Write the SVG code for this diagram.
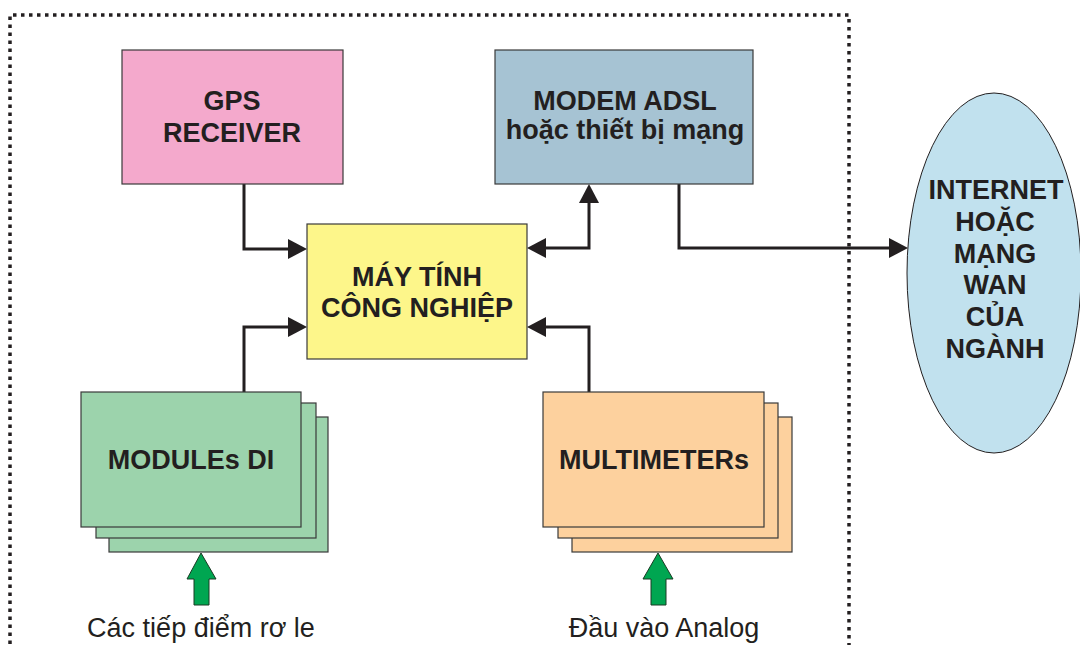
<svg xmlns="http://www.w3.org/2000/svg" width="1080" height="645" viewBox="0 0 1080 645">
<defs>
<style>
.t{font-family:"Liberation Sans",Arial,sans-serif;font-weight:bold;font-size:27px;fill:#231f20;text-anchor:middle}
.r{font-family:"Liberation Sans",Arial,sans-serif;font-size:27px;fill:#231f20;text-anchor:middle}
.box{stroke:#3a3a3a;stroke-width:1.2}
.con{fill:none;stroke:#231f20;stroke-width:3}
.green{fill:#00a651;stroke:#1a3a24;stroke-width:1}
</style>
<marker id="ah" markerUnits="userSpaceOnUse" markerWidth="20" markerHeight="21" refX="0" refY="10" orient="auto-start-reverse" viewBox="0 0 20 21">
<path d="M0,0 L19,10 L0,20 z" fill="#231f20"/>
</marker>
</defs>
<rect width="1080" height="645" fill="#ffffff"/>
<path d="M10,660 V15 H849 V660" fill="none" stroke="#231f20" stroke-width="3.5" stroke-dasharray="3.5 4.5"/>

<g id="connectors">
<path class="con" d="M244,184 V249 H288" marker-end="url(#ah)"/>
<path class="con" d="M546,248 H589 V203" marker-start="url(#ah)" marker-end="url(#ah)"/>
<path class="con" d="M244,392 V327 H288" marker-end="url(#ah)"/>
<path class="con" d="M589,392 V327 H546" marker-end="url(#ah)"/>
<path class="con" d="M679,184 V248 H889" marker-end="url(#ah)"/>
</g>

<g id="gps">
<rect class="box" x="122" y="50" width="221" height="134" fill="#f4a9cc"/>
<text class="t" x="232" y="110">GPS</text>
<text class="t" x="232" y="142">RECEIVER</text>
</g>

<g id="modem">
<rect class="box" x="495" y="50" width="258" height="134" fill="#a6c3d3"/>
<text class="t" x="625" y="110">MODEM ADSL</text>
<text class="t" x="625" y="139">hoặc thiết bị mạng</text>
</g>

<g id="computer">
<rect class="box" x="307" y="224" width="220" height="135" fill="#fdf68a"/>
<text class="t" x="417" y="286">MÁY TÍNH</text>
<text class="t" x="417" y="317">CÔNG NGHIỆP</text>
</g>

<g id="internet">
<ellipse cx="994" cy="273" rx="87" ry="180" fill="#c1e1ee" stroke="#231f20" stroke-width="1"/>
<text class="t" x="996" y="199">INTERNET</text>
<text class="t" x="995" y="231">HOẶC</text>
<text class="t" x="995" y="263">MẠNG</text>
<text class="t" x="995" y="294">WAN</text>
<text class="t" x="995" y="326">CỦA</text>
<text class="t" x="995" y="358">NGÀNH</text>
</g>

<g id="modules">
<rect class="box" x="109" y="417" width="219" height="135" fill="#9cd3ac" stroke="#231f20"/>
<rect class="box" x="96" y="403" width="220" height="135" fill="#9cd3ac" stroke="#231f20"/>
<rect class="box" x="81" y="392" width="220" height="135" fill="#9cd3ac"/>
<text class="t" x="191" y="469">MODULEs DI</text>
</g>

<g id="multimeters">
<rect class="box" x="572" y="417" width="220" height="135" fill="#fdd19e" stroke="#231f20"/>
<rect class="box" x="558" y="403" width="220" height="135" fill="#fdd19e" stroke="#231f20"/>
<rect class="box" x="543" y="392" width="221" height="135" fill="#fdd19e"/>
<text class="t" x="654" y="469">MULTIMETERs</text>
</g>

<g id="input-relay">
<polygon class="green" points="201,553 216,579 209,579 209,605 194,605 194,579 187,579"/>
<text class="r" x="201" y="637">Các tiếp điểm rơ le</text>
</g>

<g id="input-analog">
<polygon class="green" points="658,553 673,579 666,579 666,605 651,605 651,579 643,579"/>
<text class="r" x="664" y="637">Đầu vào Analog</text>
</g>
</svg>
